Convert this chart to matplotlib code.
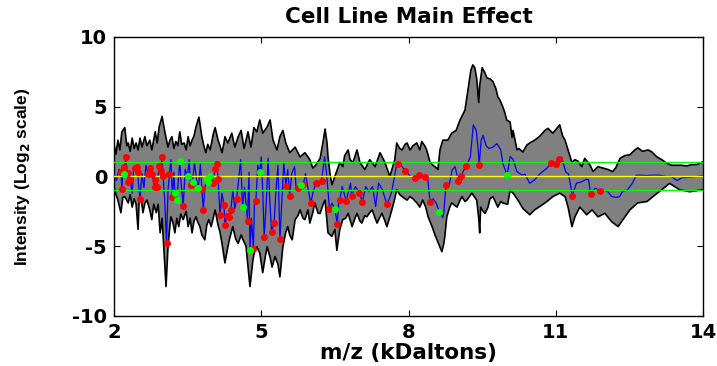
import matplotlib
matplotlib.use("Agg")
import matplotlib.pyplot as plt

# upper / lower envelope of the effect estimate (m/z in kDa, log2 intensity)
upper_x = [2.00, 2.04, 2.08, 2.12, 2.16, 2.22, 2.26, 2.29, 2.33, 2.37, 2.41, 2.45, 2.49, 2.53,
           2.57, 2.63, 2.67, 2.73, 2.77, 2.84, 2.88, 2.92, 2.98, 3.04, 3.10, 3.14, 3.18, 3.22,
           3.26, 3.30, 3.34, 3.38, 3.43, 3.47, 3.51, 3.55, 3.59, 3.63, 3.67, 3.73, 3.79, 3.83,
           3.87, 3.91, 3.96, 4.02, 4.06, 4.12, 4.16, 4.20, 4.24, 4.26, 4.32, 4.40, 4.46, 4.53,
           4.59, 4.65, 4.73, 4.79, 4.85, 4.91, 4.97, 5.03, 5.12, 5.18, 5.24, 5.32, 5.38, 5.44,
           5.50, 5.58, 5.69, 5.79, 5.89, 5.99, 6.05, 6.11, 6.20, 6.26, 6.30, 6.34, 6.36, 6.40,
           6.44, 6.50, 6.56, 6.60, 6.66, 6.70, 6.77, 6.81, 6.87, 6.95, 7.01, 7.11, 7.21, 7.32,
           7.42, 7.52, 7.62, 7.72, 7.76, 7.82, 7.87, 7.93, 7.97, 8.03, 8.09, 8.17, 8.23, 8.27,
           8.33, 8.37, 8.44, 8.50, 8.54, 8.60, 8.64, 8.70, 8.80, 8.88, 8.97, 9.05, 9.15, 9.21,
           9.27, 9.31, 9.35, 9.39, 9.43, 9.45, 9.50, 9.56, 9.60, 9.66, 9.72, 9.78, 9.82, 9.86,
           9.92, 9.96, 10.00, 10.07, 10.11, 10.13, 10.17, 10.21, 10.25, 10.33, 10.41, 10.47,
           10.57, 10.68, 10.78, 10.84, 10.94, 11.02, 11.08, 11.14, 11.19, 11.25, 11.33, 11.39,
           11.45, 11.53, 11.59, 11.70, 11.76, 11.86, 11.96, 12.06, 12.16, 12.22, 12.31, 12.41,
           12.51, 12.61, 12.67, 12.77, 12.88, 12.96, 13.06, 13.16, 13.26, 13.36, 13.46, 13.56,
           13.67, 13.77, 13.87, 14.00]
upper_y = [2.3, 1.6, 2.6, 1.9, 3.2, 3.5, 2.2, 2.4, 1.8, 2.75, 2.0, 2.4, 1.9, 2.75,
           2.1, 2.85, 2.2, 2.6, 1.9, 3.2, 2.4, 3.55, 4.3, 3.1, 2.1, 2.6, 2.85, 2.0,
           2.5, 2.2, 3.2, 2.3, 2.4, 1.9, 2.85, 2.2, 2.6, 2.9, 3.55, 4.25, 2.85, 2.2,
           1.7, 2.3, 1.9, 3.0, 3.5, 2.6, 2.2, 1.7, 2.4, 2.85, 2.4, 3.1, 2.1, 2.85,
           3.3, 2.0, 3.2, 2.1, 3.5, 3.2, 4.05, 3.1, 3.55, 4.05, 2.6, 1.9, 2.85, 3.3,
           2.4, 1.7, 2.1, 1.4, 1.7, 1.2, 0.6, 0.8, 1.3, 2.5, 3.4, 2.4, 1.4, 0.2,
           -0.6, 0.0, 0.6, 1.0, 0.7, 1.5, 1.9, 1.2, 1.0, 1.9, 1.0, 0.5, 1.2, 0.7,
           1.7, 1.0, 0.0, 1.2, 2.4, 2.0, 1.9, 2.3, 2.4, 1.9, 2.2, 2.4, 1.9, 2.5,
           2.2, 1.9, 1.0, 0.8, 0.7, 0.5, 1.9, 2.6, 2.6, 3.1, 3.3, 4.05, 4.75, 6.2,
           7.6, 8.0, 7.8, 7.0, 5.3, 6.5, 7.8, 7.4, 7.05, 7.0, 6.8, 6.3, 5.7, 5.5,
           5.0, 4.6, 4.05, 3.9, 2.8, 3.3, 2.6, 1.9, 2.0, 1.75, 2.25, 2.4,
           2.6, 2.9, 3.3, 3.45, 3.1, 3.45, 3.7, 2.9, 2.6, 1.9, 1.0, 1.2,
           1.1, 0.7, 1.3, 0.8, 0.35, 0.7, 0.6, 0.5, 0.35, 0.6, 1.3, 1.5,
           1.55, 1.9, 2.05, 1.8, 1.9, 1.75, 1.4, 1.2, 0.95, 0.8, 0.8, 0.8,
           0.75, 0.85, 0.85, 1.05]

lower_x = [2.00, 2.04, 2.08, 2.14, 2.18, 2.22, 2.29, 2.33, 2.37, 2.41, 2.45, 2.49, 2.51, 2.55,
           2.59, 2.63, 2.67, 2.73, 2.77, 2.81, 2.86, 2.90, 2.94, 2.98, 3.02, 3.06, 3.10, 3.14,
           3.16, 3.20, 3.24, 3.28, 3.32, 3.36, 3.41, 3.47, 3.51, 3.55, 3.59, 3.63, 3.67, 3.71,
           3.75, 3.79, 3.85, 3.89, 3.93, 3.98, 4.02, 4.06, 4.12, 4.16, 4.20, 4.26, 4.32, 4.36,
           4.42, 4.48, 4.53, 4.59, 4.63, 4.69, 4.71, 4.77, 4.83, 4.87, 4.91, 4.97, 5.03, 5.08,
           5.12, 5.18, 5.22, 5.28, 5.34, 5.38, 5.44, 5.50, 5.54, 5.58, 5.63, 5.69, 5.75, 5.79,
           5.85, 5.89, 5.95, 5.99, 6.05, 6.09, 6.16, 6.20, 6.26, 6.30, 6.36, 6.44, 6.50, 6.54,
           6.60, 6.66, 6.72, 6.77, 6.85, 6.91, 6.95, 7.01, 7.05, 7.11, 7.15, 7.21, 7.26, 7.32,
           7.36, 7.42, 7.46, 7.52, 7.56, 7.62, 7.66, 7.72, 7.76, 7.82, 7.87, 7.93, 7.97, 8.03,
           8.09, 8.17, 8.23, 8.29, 8.35, 8.40, 8.48, 8.54, 8.58, 8.64, 8.68, 8.72, 8.74, 8.78,
           8.84, 8.88, 8.95, 8.99, 9.05, 9.09, 9.15, 9.19, 9.25, 9.29, 9.35, 9.39, 9.43, 9.45,
           9.47, 9.52, 9.56, 9.62, 9.66, 9.72, 9.78, 9.82, 9.88, 9.92, 10.02, 10.07, 10.13,
           10.23, 10.33, 10.47, 10.57, 10.72, 10.82, 10.94, 11.08, 11.19, 11.25, 11.33, 11.39,
           11.49, 11.63, 11.74, 11.86, 12.00, 12.14, 12.27, 12.37, 12.51, 12.67, 12.86, 12.98,
           13.16, 13.32, 13.52, 13.73, 14.00]
lower_y = [-0.75, -1.3, -1.7, -2.6, -1.5, -1.45, -1.9, -1.3, -2.2, -1.6, -2.0, -3.8, -1.9, -1.5,
           -2.6, -1.9, -1.7, -2.4, -3.1, -2.0, -2.6, -2.0, -4.05, -3.0, -5.5, -7.9, -5.05, -3.5,
           -2.9, -3.3, -4.05, -3.0, -3.6, -2.7, -3.1, -2.5, -3.6, -3.0, -4.05, -3.2, -2.9, -3.3,
           -3.6, -4.2, -4.55, -3.5, -3.1, -3.6, -3.0, -2.4, -3.5, -4.0, -4.8, -6.2, -5.05, -4.4,
           -3.6, -4.5, -4.8, -4.2, -4.55, -5.0, -5.75, -7.9, -6.0, -5.2, -5.05, -5.5, -6.9, -5.8,
           -5.05, -5.8, -6.5, -5.75, -6.3, -7.2, -5.05, -4.0, -3.6, -4.2, -4.55, -3.1, -2.8, -2.4,
           -3.0, -3.1, -2.4, -3.35, -2.6, -1.9, -2.65, -2.65, -2.0, -1.7, -4.05, -4.3, -3.8, -5.3,
           -3.8, -3.1, -3.0, -2.65, -3.6, -3.0, -2.65, -3.2, -3.35, -2.8, -2.9, -2.6, -2.4, -3.0,
           -3.35, -2.9, -2.65, -3.2, -3.6, -2.9, -2.4, -1.6, -0.95, -1.3, -1.45, -1.6, -1.7, -1.45,
           -1.6, -1.9, -2.2, -1.7, -2.2, -2.9, -3.6, -4.2, -4.55, -5.05, -5.4, -4.8, -4.3, -2.9,
           -2.2, -1.9, -2.1, -2.2, -1.7, -1.45, -1.8, -1.7, -1.4, -1.2, -1.5, -1.7, -3.0, -4.05,
           -2.2, -2.5, -2.65, -2.2, -1.6, -1.45, -1.9, -2.2, -1.8, -1.9, -2.0, -1.0, -1.2,
           -1.7, -2.3, -2.75, -2.4, -2.05, -1.8, -1.45, -1.2, -1.45, -2.2, -3.6, -2.9,
           -2.2, -2.75, -2.4, -2.9, -2.65, -3.25, -3.6, -3.1, -2.4, -1.9, -1.8, -1.45,
           -0.95, -0.5, -0.95, -1.1, -0.95]

# main effect estimate (blue trace)
blue_x = [2.00, 2.05, 2.10, 2.14, 2.16, 2.18, 2.20, 2.20, 2.24, 2.26, 2.28, 2.29, 2.31, 2.33,
          2.37, 2.40, 2.43, 2.47, 2.48, 2.50, 2.53, 2.57, 2.61, 2.65, 2.69, 2.73, 2.78, 2.83,
          2.84, 2.87, 2.90, 2.92, 2.95, 2.98, 3.00, 3.03, 3.07, 3.10, 3.13, 3.16, 3.19, 3.22,
          3.24, 3.28, 3.31, 3.34, 3.37, 3.41, 3.45, 3.50, 3.53, 3.56, 3.60, 3.64, 3.68, 3.72,
          3.76, 3.79, 3.82, 3.85, 3.89, 3.91, 3.96, 4.01, 4.06, 4.10, 4.12, 4.16, 4.20, 4.24,
          4.26, 4.30, 4.35, 4.38, 4.42, 4.46, 4.50, 4.54, 4.58, 4.62, 4.66, 4.72, 4.75, 4.77,
          4.80, 4.84, 4.86, 4.89, 4.93, 4.97, 5.00, 5.03, 5.06, 5.10, 5.14, 5.17, 5.21, 5.26,
          5.30, 5.34, 5.38, 5.42, 5.46, 5.50, 5.54, 5.58, 5.62, 5.68, 5.71, 5.75, 5.81, 5.86,
          5.90, 5.95, 6.01, 6.05, 6.11, 6.17, 6.23, 6.29, 6.33, 6.39, 6.44, 6.50, 6.55, 6.58,
          6.60, 6.65, 6.73, 6.77, 6.82, 6.84, 6.92, 7.00, 7.06, 7.13, 7.19, 7.27, 7.33, 7.39,
          7.47, 7.53, 7.57, 7.65, 7.69, 7.75, 7.79, 7.87, 7.93, 8.04, 8.13, 8.22, 8.33, 8.39,
          8.44, 8.50, 8.56, 8.63, 8.70, 8.72, 8.76, 8.83, 8.89, 8.95, 9.01, 9.07, 9.13, 9.18,
          9.26, 9.32, 9.38, 9.42, 9.44, 9.48, 9.52, 9.58, 9.64, 9.72, 9.80, 9.88, 9.92, 10.01,
          10.07, 10.13, 10.21, 10.31, 10.37, 10.47, 10.57, 10.67, 10.82, 10.91, 11.00, 11.07,
          11.12, 11.20, 11.26, 11.34, 11.42, 11.54, 11.62, 11.67, 11.71, 11.80, 11.90, 11.96,
          12.06, 12.14, 12.24, 12.30, 12.36, 12.46, 12.56, 12.64, 12.70, 12.84, 12.96, 13.11,
          13.25, 13.35, 13.47, 13.57, 13.78, 14.00]
blue_y = [0.2, -0.3, 0.5, 0.34, -0.92, 0.3, 0.70, 0.18, 1.42, 0.4, 0.23, -0.37, 0.3, -0.25,
          -1.2, 0.6, 0.59, 0.70, 0.34, -0.5, -1.63, 0.2, -0.8, 0.8, 0.18, 0.63, 0.16, -0.77,
          -0.25, -0.73, 0.2, 0.75, 0.42, 1.42, 0.0, -1.5, -4.74, -1.0, 0.18, 1.2, -1.49, 0.3,
          -1.16, -1.68, -0.3, 1.09, -0.6, -2.11, 0.5, 0.0, 1.2, -0.61, -0.37, 1.0, -0.2, -0.80,
          0.9, -0.92, -2.40, -0.8, -0.18, -0.37, 0.04, -0.44, 0.52, 0.87, -0.20, -2.76, -1.2, -2.04,
          -3.48, -2.83, -2.93, -2.40, -1.0, -2.3, -1.61, -0.2, 1.2, -2.16, -0.8, -3.17, 0.3, -5.27,
          -3.0, -5.22, -2.0, -1.76, 0.8, 0.30, 1.4, -1.0, -4.38, -2.0, 1.3, -1.5, -3.96, -3.36,
          -1.0, 0.8, -4.46, -1.8, 1.0, -0.66, 0.5, -1.40, 0.2, 0.7, -0.9, -0.85, -0.61, -0.54,
          0.2, -0.8, -1.92, -1.2, -0.49, -0.7, -0.30, 1.42, 0.23, -2.35, -1.92, -2.35, -3.41, -1.68,
          -1.68, -0.73, -1.76, -1.2, -0.49, -1.37, -0.73, -1.21, -1.80, -0.73, -1.1, -0.73, -2.16, -0.49,
          -0.97, -1.68, -1.95, -1.2, -0.49, 0.7, 0.90, 0.7, 0.42, 0.0, -0.08, 0.11, -0.06, -0.1,
          -1.85, -1.6, -1.9, -2.52, -2.95, -2.6, -0.63, -0.6, 0.47, 0.7, -0.30, 0.06, 0.47, 0.75,
          1.4, 3.7, 3.3, 1.9, 0.82, 2.6, 2.95, 2.2, 2.0, 2.1, 2.35, 1.9, 0.95, 0.09,
          1.42, 1.23, 0.34, 0.1, 0.16, -0.49, -0.25, 0.16, 0.59, 0.95, 0.87, 1.23,
          1.37, 0.34, 0.16, -1.37, -0.49, -0.37, -0.2, -0.25, -1.28, -0.85, -1.02, -0.97,
          -1.09, -1.45, -1.5, -1.45, -1.09, -0.97, -0.49, 0.09, 0.09, 0.06, 0.09, 0.09,
          0.0, 0.0, -0.3, -0.1, -0.05, 0.05]

# significant peaks (red) and borderline peaks (green)
red_x = [2.14, 2.16, 2.20, 2.24, 2.28, 2.29, 2.33, 2.43, 2.47, 2.48, 2.53, 2.69, 2.73, 2.78,
         2.83, 2.84, 2.87, 2.92, 2.95, 2.98, 3.00, 3.07, 3.13, 3.19, 3.41, 3.56, 3.79, 3.82,
         4.01, 4.06, 4.10, 4.12, 4.16, 4.24, 4.26, 4.30, 4.35, 4.38, 4.50, 4.72, 4.84, 4.89,
         5.06, 5.21, 5.26, 5.38, 5.50, 5.58, 5.75, 5.86, 6.01, 6.11, 6.23, 6.39, 6.55, 6.60,
         6.73, 6.84, 7.00, 7.06, 7.57, 7.79, 7.93, 8.13, 8.22, 8.33, 8.44, 8.76, 9.01, 9.07,
         9.18, 9.44, 10.91, 11.00, 11.07, 11.34, 11.71, 11.90]
red_y = [0.34, -0.92, 0.70, 1.42, 0.23, -0.37, -0.25, 0.59, 0.70, 0.34, -1.63, 0.18, 0.63, 0.16,
         -0.77, -0.25, -0.73, 0.75, 0.42, 1.42, 0.00, -4.74, 0.18, -1.49, -2.11, -0.61, -0.92, -2.40,
         -0.44, 0.52, 0.87, -0.20, -2.76, -2.04, -3.48, -2.83, -2.93, -2.40, -1.61, -3.17, -5.22, -1.76,
         -4.38, -3.96, -3.36, -4.46, -0.66, -1.40, -0.85, -0.54, -1.92, -0.49, -0.30, -2.35, -3.41, -1.68,
         -1.76, -1.37, -1.21, -1.80, -1.95, 0.90, 0.42, -0.08, 0.11, -0.06, -1.85, -0.63, -0.30, 0.06,
         0.75, 0.82, 0.95, 0.87, 1.23, -1.37, -1.28, -1.02]
green_x = [2.20, 3.24, 3.28, 3.34, 3.50, 3.60, 3.72, 3.89, 3.91, 3.96, 4.62, 4.77, 4.97, 5.81,
           6.50, 8.63, 10.01]
green_y = [0.18, -1.16, -1.68, 1.09, 0.00, -0.37, -0.80, -0.18, -0.37, 0.04, -2.16, -5.27, 0.30, -0.61,
           -2.35, -2.52, 0.09]

threshold = 1.0

plt.rcParams["font.family"] = ["DejaVu Sans"]
plt.rcParams["font.weight"] = "bold"
plt.rcParams["axes.unicode_minus"] = False

fig = plt.figure(figsize=(7.17, 3.66), dpi=100)
ax = fig.add_axes([0.159, 0.137, 0.8215, 0.762])

# band between the envelopes
ax.fill(upper_x + lower_x[::-1], upper_y + lower_y[::-1], color="#808080", lw=0, zorder=1)
ax.plot(upper_x, upper_y, color="black", lw=1.2, zorder=2)
ax.plot(lower_x, lower_y, color="black", lw=1.2, zorder=2)

ax.plot(blue_x, blue_y, color="#0000ff", lw=0.9, zorder=3)

ax.axhline(threshold, color="#00ff00", lw=1.0, zorder=4)
ax.axhline(-threshold, color="#00ff00", lw=1.0, zorder=4)
ax.axhline(0, color="#ffff00", lw=1.0, zorder=4)

ax.plot(red_x, red_y, "o", color="#ff0000", ms=4, mec="#ff0000", zorder=5)
ax.plot(green_x, green_y, "o", color="#00ff00", ms=4, mec="#00ff00", zorder=5)

ax.set_xlim(2, 14)
ax.set_ylim(-10, 10)
ax.set_xticks([2, 5, 8, 11, 14])
ax.set_yticks([-10, -5, 0, 5, 10])
ax.tick_params(direction="in", top=True, right=True, length=4, width=0.8, labelsize=14)
ax.tick_params(axis="x", pad=5)
ax.tick_params(axis="y", pad=5)
for spine in ax.spines.values():
    spine.set_linewidth(1.0)

ax.set_title("Cell Line Main Effect", fontsize=15.5, fontweight="bold", pad=10)
ax.set_xlabel("m/z (kDaltons)", fontsize=15.5, fontweight="bold", labelpad=1)
ax.set_ylabel("Intensity (Log$_\\mathbf{2}$ scale)", fontsize=12.5, fontweight="bold",
              family=["Liberation Sans", "DejaVu Sans"])
ax.yaxis.set_label_coords(-0.14, 0.5)

fig.savefig("out.png", dpi=100)
